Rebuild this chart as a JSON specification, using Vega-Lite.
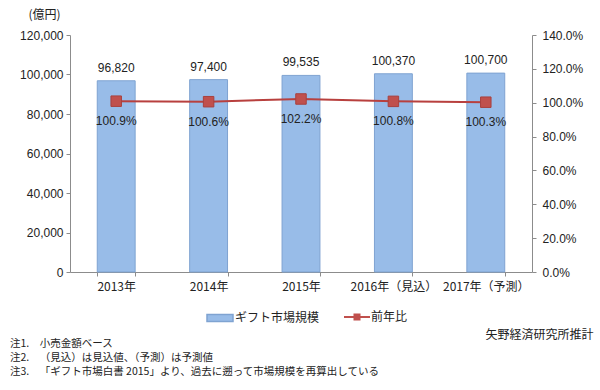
{
  "$schema": "https://vega.github.io/schema/vega-lite/v6.json",
  "width": 462,
  "height": 237,
  "autosize": {"type": "none"},
  "padding": {"left": 70, "top": 35, "right": 68, "bottom": 118},
  "background": "white",
  "config": {
    "font": "Noto Sans CJK JP",
    "view": {"stroke": null},
    "axis": {
      "grid": false,
      "domainColor": "#8c8c8c",
      "tickColor": "#8c8c8c",
      "tickSize": 4,
      "labelColor": "#222222",
      "labelFontSize": 12,
      "labelFont": "Liberation Sans",
      "titleFont": "Noto Sans CJK JP",
      "titleFontWeight": "normal",
      "titleFontSize": 12,
      "titleColor": "#222222"
    },
    "legend": {
      "labelFont": "Noto Sans CJK JP",
      "labelFontSize": 12,
      "labelColor": "#222222",
      "title": null
    }
  },
  "title": {
    "text": [
      "注1.\u2003小売金額ベース",
      "注2.\u2003（見込）は見込値、（予測）は予測値",
      "注3.\u2003「ギフト市場白書 2015」より、過去に遡って市場規模を再算出している"
    ],
    "orient": "bottom",
    "anchor": "start",
    "frame": "group",
    "dx": -60,
    "offset": -1,
    "fontSize": 10.5,
    "fontWeight": "normal",
    "lineHeight": 14,
    "color": "#222222",
    "font": "Noto Sans CJK JP"
  },
  "data": {
    "values": [
      {"year": "2013年", "value": 96820, "ratio": 1.009},
      {"year": "2014年", "value": 97400, "ratio": 1.006},
      {"year": "2015年", "value": 99535, "ratio": 1.022},
      {"year": "2016年（見込）", "value": 100370, "ratio": 1.008},
      {"year": "2017年（予測）", "value": 100700, "ratio": 1.003}
    ]
  },
  "encoding": {
    "x": {
      "field": "year",
      "type": "nominal",
      "sort": null,
      "scale": {"paddingInner": 0.59, "paddingOuter": 0.295},
      "axis": {
        "labelAngle": 0,
        "labelFont": "Noto Sans CJK JP",
        "labelPadding": 5,
        "tickBand": "extent",
        "title": "矢野経済研究所推計",
        "titleX": 523,
        "titleY": 62,
        "titleAlign": "right",
        "titleBaseline": "middle"
      }
    }
  },
  "layer": [
    {
      "encoding": {
        "y": {
          "field": "value",
          "type": "quantitative",
          "scale": {"domain": [0, 120000]},
          "axis": {
            "orient": "left",
            "values": [0, 20000, 40000, 60000, 80000, 100000, 120000],
            "format": ",.0f",
            "labelPadding": 3,
            "title": "(億円)",
            "titleAngle": 0,
            "titleX": -26,
            "titleY": -21,
            "titleAlign": "center",
            "titleBaseline": "middle"
          }
        }
      },
      "layer": [
        {
          "mark": {"type": "bar", "stroke": "#7FA3D1", "strokeWidth": 1},
          "encoding": {
            "color": {
              "datum": "ギフト市場規模",
              "scale": {"range": ["#98BCE8"]},
              "legend": {
                "orient": "none",
                "legendX": 136,
                "legendY": 269,
                "symbolType": "M-1,-0.27H1V0.27H-1Z",
                "symbolSize": 676,
                "symbolStrokeColor": "#7FA3D1",
                "labelOffset": 1
              }
            }
          }
        },
        {
          "mark": {"type": "text", "baseline": "bottom", "dy": -6, "font": "Liberation Sans", "fontSize": 12, "color": "#222222"},
          "encoding": {"text": {"field": "value", "type": "quantitative", "format": ",.0f"}}
        }
      ]
    },
    {
      "encoding": {
        "y": {
          "field": "ratio",
          "type": "quantitative",
          "scale": {"domain": [0, 1.4]},
          "axis": {
            "orient": "right",
            "values": [0, 0.2, 0.4, 0.6, 0.8, 1.0, 1.2, 1.4],
            "format": ".1%",
            "labelPadding": 6,
            "title": null
          }
        }
      },
      "layer": [
        {
          "mark": {"type": "line", "strokeWidth": 2},
          "encoding": {
            "color": {
              "datum": "前年比",
              "scale": {"range": ["#B8403E"]},
              "legend": {
                "orient": "none",
                "legendX": 274,
                "legendY": 269,
                "symbolType": "M-1,-0.07H-0.27V-0.27H0.27V-0.07H1V0.07H0.27V0.27H-0.27V0.07H-1Z",
                "symbolSize": 676,
                "symbolFillColor": "#C0504D",
                "symbolStrokeWidth": 0,
                "labelOffset": 1
              }
            }
          }
        },
        {
          "mark": {"type": "point", "shape": "square", "size": 110, "filled": true, "color": "#C0504D", "stroke": "#A8403E", "strokeWidth": 1, "opacity": 1}
        },
        {
          "mark": {"type": "text", "baseline": "middle", "dy": 20, "font": "Liberation Sans", "fontSize": 12, "color": "#222222"},
          "encoding": {"text": {"field": "ratio", "type": "quantitative", "format": ".1%"}}
        }
      ]
    }
  ],
  "resolve": {"scale": {"y": "independent", "color": "independent"}}
}
